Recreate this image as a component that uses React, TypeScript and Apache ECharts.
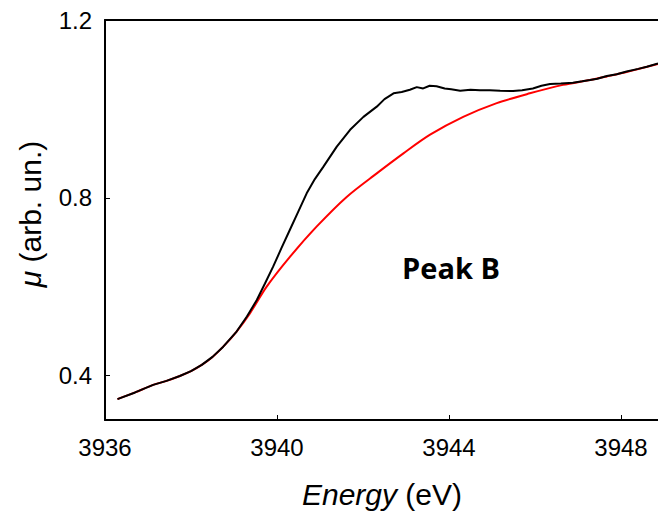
import React, { useEffect, useRef } from "react";
import * as echarts from "echarts";

const blackEnergy = [3936.29, 3936.7, 3937.12, 3937.43, 3937.74, 3938.0, 3938.25, 3938.5, 3938.75, 3939.06, 3939.3, 3939.53, 3939.72, 3939.91, 3940.1, 3940.3, 3940.5, 3940.69, 3940.88, 3941.08, 3941.39, 3941.7, 3942.01, 3942.32, 3942.5, 3942.71, 3942.9, 3943.09, 3943.25, 3943.4, 3943.55, 3943.71, 3943.9, 3944.05, 3944.26, 3944.5, 3944.72, 3944.95, 3945.19, 3945.49, 3945.7, 3945.95, 3946.15, 3946.35, 3946.6, 3946.88, 3947.1, 3947.28, 3947.45, 3947.67, 3947.9, 3948.13, 3948.4, 3948.6, 3948.86];
const blackMu = [0.347, 0.362, 0.379, 0.388, 0.399, 0.41, 0.424, 0.442, 0.465, 0.499, 0.533, 0.57, 0.607, 0.645, 0.686, 0.728, 0.77, 0.81, 0.842, 0.87, 0.915, 0.953, 0.982, 1.005, 1.022, 1.035, 1.038, 1.043, 1.049, 1.046, 1.052, 1.051, 1.046, 1.044, 1.041, 1.043, 1.042, 1.042, 1.041, 1.04, 1.042, 1.046, 1.052, 1.056, 1.057, 1.059, 1.062, 1.065, 1.068, 1.074, 1.078, 1.084, 1.09, 1.095, 1.102];

const redEnergy = [3936.29, 3936.7, 3937.12, 3937.43, 3937.74, 3938.0, 3938.25, 3938.5, 3938.75, 3939.06, 3939.37, 3939.76, 3940.3, 3940.92, 3941.62, 3942.32, 3942.94, 3943.56, 3944.33, 3945.11, 3945.88, 3946.65, 3947.28, 3947.67, 3948.13, 3948.86];
const redMu = [0.347, 0.362, 0.379, 0.388, 0.399, 0.41, 0.424, 0.442, 0.465, 0.499, 0.54, 0.6, 0.667, 0.735, 0.802, 0.855, 0.9, 0.942, 0.982, 1.013, 1.035, 1.054, 1.065, 1.073, 1.083, 1.101];

const xTicks = [3936, 3940, 3944, 3948];
const yTicks = [0.4, 0.8, 1.2];

const FONT = "Liberation Sans, Arial, sans-serif";

export default function App() {
  const ref = useRef<HTMLDivElement>(null);
  useEffect(() => {
    if (!ref.current) return;
    const chart = echarts.init(ref.current, null, { renderer: "svg" });
    const axisLine = { show: true, lineStyle: { color: "#000", width: 2 } };
    chart.setOption({
      animation: false,
      backgroundColor: "#fff",
      grid: { left: 105, top: 20, right: 0, bottom: 97 },
      xAxis: [
        {
          type: "value",
          min: 3936,
          max: 3948.86,
          axisLine,
          splitLine: { show: false },
          axisTick: { show: true, inside: true, length: 5, customValues: xTicks, lineStyle: { color: "#000", width: 1 } },
          axisLabel: { customValues: xTicks, color: "#000", fontSize: 24, fontFamily: FONT, margin: 15, formatter: (v: number) => String(Math.round(v)) },
        },
        {
          type: "value",
          position: "top",
          min: 3936,
          max: 3948.86,
          axisLine,
          splitLine: { show: false },
          axisTick: { show: false },
          axisLabel: { show: false },
        },
      ],
      yAxis: {
        type: "value",
        min: 0.3,
        max: 1.2,
        axisLine,
        splitLine: { show: false },
        axisTick: { show: true, inside: true, length: 5, customValues: yTicks, lineStyle: { color: "#000", width: 1 } },
        axisLabel: { customValues: yTicks, color: "#000", fontSize: 24, fontFamily: FONT, margin: 13, formatter: (v: number) => v.toFixed(1) },
      },
      series: [
        {
          type: "line",
          data: redEnergy.map((e, i) => [e, redMu[i]]),
          showSymbol: false,
          smooth: 0.3,
          lineStyle: { color: "#ff0000", width: 2 },
          z: 2,
        },
        {
          type: "line",
          data: blackEnergy.map((e, i) => [e, blackMu[i]]),
          showSymbol: false,
          lineStyle: { color: "#000", width: 2 },
          z: 3,
        },
      ],
      graphic: [
        {
          type: "text",
          x: 451,
          y: 267,
          style: {
            text: "Peak B",
            font: "bold 29px 'Open Sans', sans-serif",
            fill: "#000",
            align: "center",
            verticalAlign: "middle",
          },
        },
        {
          type: "text",
          x: 382,
          y: 494,
          style: {
            text: "{i|Energy}{n| (eV)}",
            align: "center",
            verticalAlign: "middle",
            rich: {
              i: { fontStyle: "italic", fontSize: 30, fontFamily: FONT, fill: "#000" },
              n: { fontSize: 30, fontFamily: FONT, fill: "#000" },
            },
          },
        },
        {
          type: "text",
          x: 30,
          y: 214,
          rotation: Math.PI / 2,
          style: {
            text: "{i|μ}{n| (arb. un.)}",
            align: "center",
            verticalAlign: "middle",
            rich: {
              i: { fontStyle: "italic", fontSize: 30, fontFamily: FONT, fill: "#000" },
              n: { fontSize: 30, fontFamily: FONT, fill: "#000" },
            },
          },
        },
      ],
    });
    return () => chart.dispose();
  }, []);
  return <div ref={ref} style={{ width: 658, height: 517, position: "absolute", left: 0, top: 0 }} />;
}
